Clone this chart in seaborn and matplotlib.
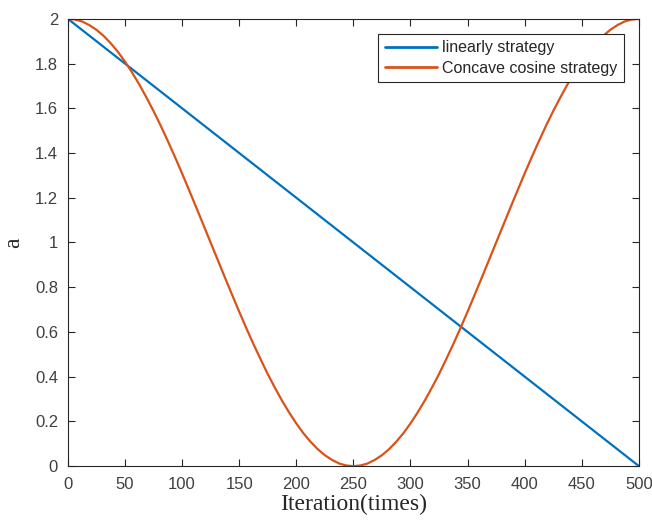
import numpy as np
import pandas as pd
import matplotlib
matplotlib.use("Agg")
import matplotlib.pyplot as plt
import seaborn as sns

# Data
linear_x = [0, 500]
linear_y = [2.0, 0.0]

cos_x = [i * 6.25 for i in range(81)]
cos_y = [2.000, 1.997, 1.988, 1.972, 1.951, 1.924, 1.891, 1.853, 1.809, 1.760,
         1.707, 1.649, 1.588, 1.523, 1.454, 1.383, 1.309, 1.233, 1.156, 1.078,
         1.000, 0.922, 0.844, 0.767, 0.691, 0.617, 0.546, 0.478, 0.412, 0.351,
         0.293, 0.240, 0.191, 0.147, 0.109, 0.076, 0.049, 0.028, 0.012, 0.003,
         0.000, 0.003, 0.012, 0.028, 0.049, 0.076, 0.109, 0.147, 0.191, 0.240,
         0.293, 0.351, 0.412, 0.478, 0.546, 0.617, 0.691, 0.767, 0.844, 0.922,
         1.000, 1.078, 1.156, 1.233, 1.309, 1.383, 1.454, 1.523, 1.588, 1.649,
         1.707, 1.760, 1.809, 1.853, 1.891, 1.924, 1.951, 1.972, 1.988, 1.997,
         2.000]

series_names = ["linearly strategy", "Concave cosine strategy"]
colors = ["#0072BD", "#D95319"]
x_ticks = [0, 50, 100, 150, 200, 250, 300, 350, 400, 450, 500]
y_ticks = [0, 0.2, 0.4, 0.6, 0.8, 1.0, 1.2, 1.4, 1.6, 1.8, 2.0]
y_tick_labels = ["0", "0.2", "0.4", "0.6", "0.8", "1", "1.2", "1.4", "1.6", "1.8", "2"]

df = pd.concat([
    pd.DataFrame({"x": linear_x, "y": linear_y, "s": series_names[0]}),
    pd.DataFrame({"x": cos_x, "y": cos_y, "s": series_names[1]}),
], ignore_index=True)

sns.set_theme(style="white")
plt.rcParams["font.family"] = ["Liberation Sans", "DejaVu Sans"]

fig = plt.figure(figsize=(6.52, 5.22), dpi=100)
ax = fig.add_axes([0.104, 0.107, 0.876, 0.857])

sns.lineplot(data=df, x="x", y="y", hue="s", hue_order=series_names,
             palette=colors, linewidth=1.6, ax=ax, sort=False,
             estimator=None)

ax.set_xlim(0, 500)
ax.set_ylim(0, 2)
ax.set_xticks(x_ticks)
ax.set_yticks(y_ticks)
ax.set_yticklabels(y_tick_labels)
ax.tick_params(direction="in", length=5, width=0.8, colors="#262626",
               labelsize=12, top=True, right=True, bottom=True, left=True,
               labelcolor="#404040")
ax.tick_params(axis="x", pad=8)
ax.tick_params(axis="y", pad=7)
for sp in ax.spines.values():
    sp.set_visible(True)
    sp.set_color("#262626")
    sp.set_linewidth(0.8)

ax.set_xlabel("Iteration(times)", family=["Liberation Serif", "DejaVu Serif"],
              fontsize=17, labelpad=1)
ax.set_ylabel("a", family=["Liberation Serif", "DejaVu Serif"],
              fontsize=17, labelpad=8)

leg = ax.legend(loc="upper right", fontsize=11.5, frameon=True, fancybox=False,
                framealpha=1, edgecolor="#262626", handlelength=3.3,
                borderaxespad=0.95, borderpad=0.4, labelspacing=0.35,
                handletextpad=0.3, title=None)
leg.get_frame().set_linewidth(0.8)
for line in leg.get_lines():
    line.set_linewidth(2.0)

fig.savefig("out.png", dpi=100)
